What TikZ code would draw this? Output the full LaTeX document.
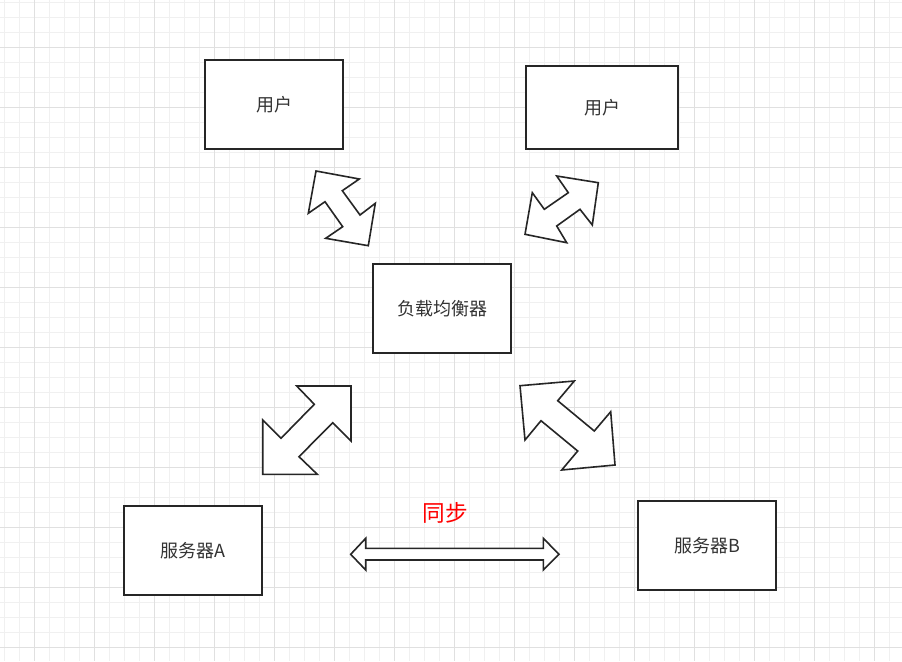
\documentclass[tikz,border=0pt]{standalone}
\usepackage{fontspec}
\newfontfamily\cjk{Noto Sans CJK SC}
\definecolor{gridminor}{HTML}{F0F0F0}
\definecolor{gridmajor}{HTML}{E0E0E0}
\definecolor{ink}{HTML}{333333}
\begin{document}
\begin{tikzpicture}[x=0.75pt,y=-0.75pt,
  box/.style={draw=black!85, line width=1.2pt, fill=white, inner sep=0pt},
  lbl/.style={text=ink, font=\cjk\fontsize{13.5}{16}\selectfont},
  bigarrow/.style={draw=black!85, line width=1.2pt, fill=white, line join=miter}]
\useasboundingbox (0,0) rectangle (902,661);
\fill[white] (0,0) rectangle (902,661);
% grid
\foreach \x in {4,19,...,900} \draw[gridminor, line width=0.75pt] (\x,0) -- (\x,661);
\foreach \y in {2,17,...,660} \draw[gridminor, line width=0.75pt] (0,\y) -- (902,\y);
\foreach \x in {34,94,...,900} \draw[gridmajor, line width=0.75pt] (\x,0) -- (\x,661);
\foreach \y in {47,107,...,660} \draw[gridmajor, line width=0.75pt] (0,\y) -- (902,\y);
% boxes
\draw[box] (205,60) rectangle (343,149);
\node[lbl] (u1) at (274,104.5) {用户};
\draw[box] (526,66) rectangle (678,149);
\node[lbl] (u2) at (602,107.5) {用户};
\draw[box] (373,264) rectangle (511,353);
\node[lbl] (lb) at (442,308.5) {负载均衡器};
\draw[box] (124,506) rectangle (262,595);
\node[lbl] (sa) at (193,550.5) {服务器A};
\draw[box] (638,501) rectangle (776,590);
\node[lbl] (sb) at (707,545.5) {服务器B};
% double arrows
\draw[bigarrow] (316,171) -- (359.3,179) -- (342.3,190.7) -- (360,215) -- (375.3,203.3) -- (368.3,245.7) -- (325.7,238.3) -- (342.7,226.7) -- (325,201.7) -- (308.3,213.3) -- cycle;
\draw[bigarrow] (556.7,176) -- (598.3,182.7) -- (592.3,225) -- (580,209.3) -- (556.7,226) -- (566.7,242.7) -- (525,234.3) -- (532.3,192.7) -- (544.3,209.3) -- (568.3,192.7) -- cycle;
\draw[bigarrow] (296.7,386) -- (351,386) -- (351,441) -- (332.7,422.7) -- (299,456.7) -- (317.3,474.3) -- (262.7,474.3) -- (262.7,420) -- (281,438.3) -- (314.3,404.3) -- cycle;
\draw[bigarrow] (520,385.7) -- (574.3,381) -- (557.7,400.7) -- (594.3,431) -- (610.7,411.7) -- (615,465) -- (561.7,470) -- (577.7,451) -- (541,420.7) -- (525,440) -- cycle;
% sync arrow
\draw[bigarrow] (350.7,554.3) -- (365.7,538.3) -- (365.7,548.3) -- (543.3,548.3) -- (543.3,538.3) -- (559,554.3) -- (543.3,570) -- (543.3,560) -- (365.7,560) -- (365.7,570) -- cycle;
\node[text=red, font=\cjk\fontsize{17}{20}\selectfont] (sync) at (445,513) {同步};
\end{tikzpicture}
\end{document}
